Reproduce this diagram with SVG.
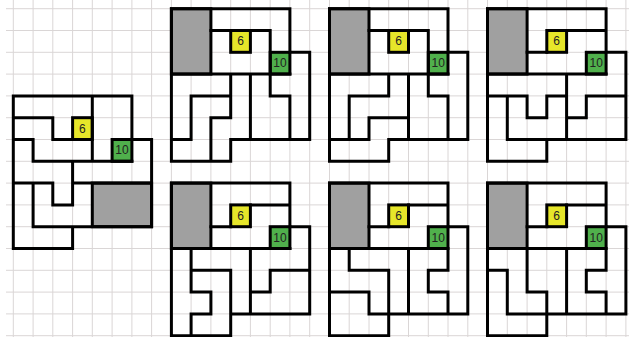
<svg xmlns="http://www.w3.org/2000/svg" width="629" height="337" viewBox="0 0 629 337">
<style>
.grid line{stroke:#dad6d6;stroke-width:1}
.w{fill:none;stroke:#000;stroke-width:3;stroke-linecap:square;stroke-linejoin:miter}
.gray{fill:#a0a0a0;stroke:#000;stroke-width:3}
.y{fill:#e6e62a;stroke:#000;stroke-width:3}
.g{fill:#50b04c;stroke:#000;stroke-width:3}
.t{font-family:"Liberation Sans",Arial,sans-serif;font-size:12px;fill:#222;text-anchor:middle;dominant-baseline:central}
</style>
<rect x="0" y="0" width="629" height="337" fill="#fff"/>
<g class="grid" id="grid">
<line x1="13.3" y1="0" x2="13.3" y2="337"/><line x1="33.1" y1="0" x2="33.1" y2="337"/><line x1="52.8" y1="0" x2="52.8" y2="337"/><line x1="72.6" y1="0" x2="72.6" y2="337"/><line x1="92.3" y1="0" x2="92.3" y2="337"/><line x1="112.1" y1="0" x2="112.1" y2="337"/><line x1="131.9" y1="0" x2="131.9" y2="337"/><line x1="151.6" y1="0" x2="151.6" y2="337"/><line x1="171.4" y1="0" x2="171.4" y2="337"/><line x1="191.1" y1="0" x2="191.1" y2="337"/><line x1="210.9" y1="0" x2="210.9" y2="337"/><line x1="230.7" y1="0" x2="230.7" y2="337"/><line x1="250.4" y1="0" x2="250.4" y2="337"/><line x1="270.2" y1="0" x2="270.2" y2="337"/><line x1="289.9" y1="0" x2="289.9" y2="337"/><line x1="309.7" y1="0" x2="309.7" y2="337"/><line x1="329.5" y1="0" x2="329.5" y2="337"/><line x1="349.2" y1="0" x2="349.2" y2="337"/><line x1="369" y1="0" x2="369" y2="337"/><line x1="388.7" y1="0" x2="388.7" y2="337"/><line x1="408.5" y1="0" x2="408.5" y2="337"/><line x1="428.3" y1="0" x2="428.3" y2="337"/><line x1="448" y1="0" x2="448" y2="337"/><line x1="467.8" y1="0" x2="467.8" y2="337"/><line x1="487.5" y1="0" x2="487.5" y2="337"/><line x1="507.3" y1="0" x2="507.3" y2="337"/><line x1="527.1" y1="0" x2="527.1" y2="337"/><line x1="546.8" y1="0" x2="546.8" y2="337"/><line x1="566.6" y1="0" x2="566.6" y2="337"/><line x1="586.3" y1="0" x2="586.3" y2="337"/><line x1="606.1" y1="0" x2="606.1" y2="337"/><line x1="625.9" y1="0" x2="625.9" y2="337"/>
<line x1="6" y1="8.7" x2="629" y2="8.7"/><line x1="6" y1="30.5" x2="629" y2="30.5"/><line x1="6" y1="52.3" x2="629" y2="52.3"/><line x1="6" y1="74.1" x2="629" y2="74.1"/><line x1="6" y1="95.9" x2="629" y2="95.9"/><line x1="6" y1="117.7" x2="629" y2="117.7"/><line x1="6" y1="139.5" x2="629" y2="139.5"/><line x1="6" y1="161.3" x2="629" y2="161.3"/><line x1="6" y1="183.1" x2="629" y2="183.1"/><line x1="6" y1="204.9" x2="629" y2="204.9"/><line x1="6" y1="226.7" x2="629" y2="226.7"/><line x1="6" y1="248.5" x2="629" y2="248.5"/><line x1="6" y1="270.3" x2="629" y2="270.3"/><line x1="6" y1="292.1" x2="629" y2="292.1"/><line x1="6" y1="313.9" x2="629" y2="313.9"/><line x1="6" y1="335.7" x2="629" y2="335.7"/>
</g>

<g id="puzzle-a">
<rect class="gray" x="92.3" y="183.1" width="59.3" height="43.6"/>
<rect class="y" x="72.6" y="117.7" width="19.7" height="21.8"/>
<rect class="g" x="112.1" y="139.5" width="19.8" height="21.8"/>
<path class="w" d="M13.3 95.9H131.9V139.5 M92.3 95.9V161.3 M13.3 95.9V248.5 M13.3 117.7H52.8V139.5H72.6 M13.3 139.5H33.1V161.3H131.9 M131.9 139.5H151.6V226.7 M72.6 161.3V204.9 M13.3 183.1H52.8V204.9H72.6 M72.6 183.1H151.6 M33.1 183.1V226.7H151.6 M13.3 248.5H72.6V226.7"/>
<text class="t" x="82.45" y="128.6">6</text>
<text class="t" x="122" y="150.4">10</text>
</g>

<g id="puzzle-b">
<rect class="gray" x="171.4" y="8.7" width="39.5" height="65.4"/>
<rect class="y" x="230.7" y="30.5" width="19.7" height="21.8"/>
<rect class="g" x="270.2" y="52.3" width="19.7" height="21.8"/>
<path class="w" d="M171.4 8.7H289.9V52.3H309.7V139.5 M210.9 30.5H270.2V95.9H289.9V139.5 M171.4 74.1H289.9 M171.4 8.7V161.3H230.7V139.5 M230.7 139.5H309.7 M230.7 74.1V117.7H210.9V161.3 M191.1 95.9H230.7 M191.1 95.9V139.5H171.4 M250.4 74.1V139.5"/>
<text class="t" x="240.55" y="41.4">6</text>
<text class="t" x="280.05" y="63.2">10</text>
</g>

<g id="puzzle-c">
<rect class="gray" x="329.5" y="8.7" width="39.5" height="65.4"/>
<rect class="y" x="388.7" y="30.5" width="19.8" height="21.8"/>
<rect class="g" x="428.3" y="52.3" width="19.7" height="21.8"/>
<path class="w" d="M329.5 8.7H448V52.3H467.8V139.5 M369 30.5H428.3V95.9H448V139.5 M329.5 74.1H448 M329.5 8.7V161.3H388.7V139.5 M388.7 139.5H467.8 M388.7 74.1V95.9H349.2V139.5 M329.5 139.5H369V117.7H408.5 M408.5 74.1V139.5"/>
<text class="t" x="398.6" y="41.4">6</text>
<text class="t" x="438.15" y="63.2">10</text>
</g>

<g id="puzzle-d">
<rect class="gray" x="487.5" y="8.7" width="39.6" height="65.4"/>
<rect class="y" x="546.8" y="30.5" width="19.8" height="21.8"/>
<rect class="g" x="586.3" y="52.3" width="19.8" height="21.8"/>
<path class="w" d="M487.5 8.7H606.1V52.3H625.9V139.5 M566.6 30.5H606.1 M527.1 52.3H546.8 M487.5 74.1H606.1 M566.6 74.1V139.5 M487.5 95.9H527.1V117.7H546.8V95.9H566.6 M507.3 95.9V139.5 M625.9 95.9H586.3V117.7H566.6 M507.3 139.5H625.9 M487.5 8.7V161.3H546.8V139.5"/>
<text class="t" x="556.7" y="41.4">6</text>
<text class="t" x="596.2" y="63.2">10</text>
</g>

<g id="puzzle-e">
<rect class="gray" x="171.4" y="183.1" width="39.5" height="65.4"/>
<rect class="y" x="230.7" y="204.9" width="19.7" height="21.8"/>
<rect class="g" x="270.2" y="226.7" width="19.7" height="21.8"/>
<path class="w" d="M171.4 183.1H289.9V226.7H309.7V313.9 M250.4 204.9H289.9 M210.9 226.7H230.7 M171.4 248.5H289.9 M171.4 183.1V335.7H230.7V270.3 M191.1 270.3H230.7 M191.1 248.5V292.1H210.9V313.9H191.1V335.7 M250.4 248.5V313.9 M230.7 313.9H309.7 M309.7 270.3H270.2V292.1H250.4"/>
<text class="t" x="240.55" y="215.8">6</text>
<text class="t" x="280.05" y="237.6">10</text>
</g>

<g id="puzzle-f">
<rect class="gray" x="329.5" y="183.1" width="39.5" height="65.4"/>
<rect class="y" x="388.7" y="204.9" width="19.8" height="21.8"/>
<rect class="g" x="428.3" y="226.7" width="19.7" height="21.8"/>
<path class="w" d="M329.5 183.1H448V226.7H467.8V313.9 M408.5 204.9H448 M369 226.7H388.7 M329.5 248.5H448 M329.5 183.1V335.7H388.7V270.3H349.2V248.5 M329.5 292.1H369V313.9H467.8 M408.5 248.5V313.9 M448 248.5V270.3H428.3V292.1H448V313.9"/>
<text class="t" x="398.6" y="215.8">6</text>
<text class="t" x="438.15" y="237.6">10</text>
</g>

<g id="puzzle-g">
<rect class="gray" x="487.5" y="183.1" width="39.6" height="65.4"/>
<rect class="y" x="546.8" y="204.9" width="19.8" height="21.8"/>
<rect class="g" x="586.3" y="226.7" width="19.8" height="21.8"/>
<path class="w" d="M487.5 183.1H606.1V226.7H625.9V313.9 M566.6 204.9H606.1 M527.1 226.7H546.8 M487.5 248.5H606.1 M487.5 183.1V335.7H546.8V292.1H527.1V248.5 M487.5 270.3H507.3V313.9H625.9 M566.6 248.5V313.9 M606.1 248.5V270.3H586.3V292.1H606.1V313.9"/>
<text class="t" x="556.7" y="215.8">6</text>
<text class="t" x="596.2" y="237.6">10</text>
</g>
</svg>
